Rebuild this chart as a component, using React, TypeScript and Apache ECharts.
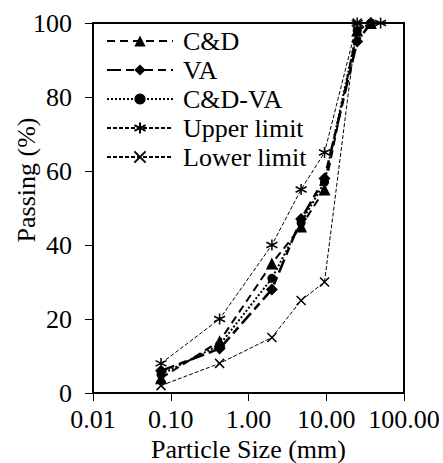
import React, { useEffect, useRef } from "react";
import * as echarts from "echarts";

const sizes = [0.075, 0.425, 2, 4.75, 9.5, 25, 37.5];
const cdValues = [4, 14, 35, 45, 55, 98, 100];
const vaValues = [6, 12, 28, 47, 58, 95, 100];
const cdvaValues = [5, 13, 31, 46, 57, 98, 100];
const upperSizes = [0.075, 0.425, 2, 4.75, 9.5, 25, 50];
const upperValues = [8, 20, 40, 55, 65, 100, 100];
const lowerSizes = [0.075, 0.425, 2, 4.75, 9.5, 25];
const lowerValues = [2, 8, 15, 25, 30, 100];
const xTicks = [0.01, 0.1, 1, 10, 100];
const xTitle = "Particle Size (mm)";
const yTitle = "Passing (%)";

const ASTERISK = "path://M5 0L5 10M0.7 2.5L9.3 7.5M0.7 7.5L9.3 2.5";
const CROSS = "path://M0 0L10 10M10 0L0 10";
const FONT = "'Liberation Serif', 'Times New Roman', serif";
const FS = 26;

function pairs(xs: number[], ys: number[]) {
  return xs.map((x, i) => [x, ys[i]]);
}

export default function App() {
  const ref = useRef<HTMLDivElement>(null);
  useEffect(() => {
    if (!ref.current) return;
    const chart = echarts.init(ref.current, undefined, { renderer: "svg" });
    const strokeSym = {
      color: "transparent",
      borderColor: "#000",
      borderWidth: 1.5,
    };
    chart.setOption({
      animation: false,
      backgroundColor: "#fff",
      textStyle: { fontFamily: FONT },
      grid: {
        left: 93,
        right: 39,
        top: 23,
        bottom: 70,
        containLabel: false,
        outerBoundsMode: "none",
        show: true,
        borderColor: "#000",
        borderWidth: 2,
        backgroundColor: "transparent",
      },
      legend: {
        orient: "vertical",
        left: 101,
        top: 23,
        itemWidth: 66,
        itemHeight: 14,
        itemGap: 3,
        textStyle: {
          fontFamily: FONT,
          fontSize: FS,
          color: "#000",
          padding: [0, 0, 0, 5],
        },
        data: ["C&D", "VA", "C&D-VA", "Upper limit", "Lower limit"],
      },
      graphic: [
        {
          type: "text",
          x: 26,
          y: 180,
          rotation: Math.PI / 2,
          style: {
            text: yTitle,
            fontFamily: FONT,
            fontSize: FS,
            fill: "#000",
            align: "center",
            verticalAlign: "middle",
          },
        },
      ],
      xAxis: {
        type: "log",
        logBase: 10,
        min: 0.01,
        max: 100,
        name: xTitle,
        nameLocation: "middle",
        nameGap: 34,
        nameTextStyle: { fontFamily: FONT, fontSize: FS, color: "#000" },
        axisLine: { show: true, lineStyle: { color: "#000", width: 2 } },
        axisTick: { show: true, length: 8, lineStyle: { color: "#000", width: 1 } },
        minorTick: { show: false },
        splitLine: { show: false },
        axisLabel: {
          fontFamily: FONT,
          fontSize: FS,
          color: "#000",
          margin: 13,
          hideOverlap: false,
          formatter: (v: number) => {
            const t = xTicks.find((x) => Math.abs(x - v) / x < 1e-6);
            return (t !== undefined ? t : v).toFixed(2);
          },
        },
      },
      yAxis: {
        type: "value",
        min: 0,
        max: 100,
        interval: 20,
        axisLine: { show: true, lineStyle: { color: "#000", width: 2 } },
        axisTick: { show: true, length: 8, lineStyle: { color: "#000", width: 1 } },
        splitLine: { show: false },
        axisLabel: { fontFamily: FONT, fontSize: FS, color: "#000", margin: 21 },
      },
      series: [
        {
          name: "Upper limit",
          type: "line",
          data: pairs(upperSizes, upperValues),
          symbol: ASTERISK,
          symbolSize: 11,
          lineStyle: { color: "#000", width: 1, type: [4, 2] },
          itemStyle: strokeSym,
          z: 2,
        },
        {
          name: "Lower limit",
          type: "line",
          data: pairs(lowerSizes, lowerValues),
          symbol: CROSS,
          symbolSize: 9,
          lineStyle: { color: "#000", width: 1, type: [4, 2] },
          itemStyle: strokeSym,
          z: 2,
        },
        {
          name: "C&D-VA",
          type: "line",
          data: pairs(sizes, cdvaValues),
          symbol: "circle",
          symbolSize: 9,
          lineStyle: { color: "#000", width: 2, type: [2, 2] },
          itemStyle: { color: "#000" },
          z: 3,
        },
        {
          name: "VA",
          type: "line",
          data: pairs(sizes, vaValues),
          symbol: "diamond",
          symbolSize: 12,
          lineStyle: { color: "#000", width: 2.5, type: [14, 5, 8, 5] },
          itemStyle: { color: "#000" },
          z: 3,
        },
        {
          name: "C&D",
          type: "line",
          data: pairs(sizes, cdValues),
          symbol: "triangle",
          symbolSize: 12,
          lineStyle: { color: "#000", width: 2, type: [8, 5] },
          itemStyle: { color: "#000" },
          z: 3,
        },
      ],
    });
    return () => chart.dispose();
  }, []);
  return (
    <div
      ref={ref}
      style={{ position: "absolute", left: 0, top: 0, width: 443, height: 463 }}
    />
  );
}
